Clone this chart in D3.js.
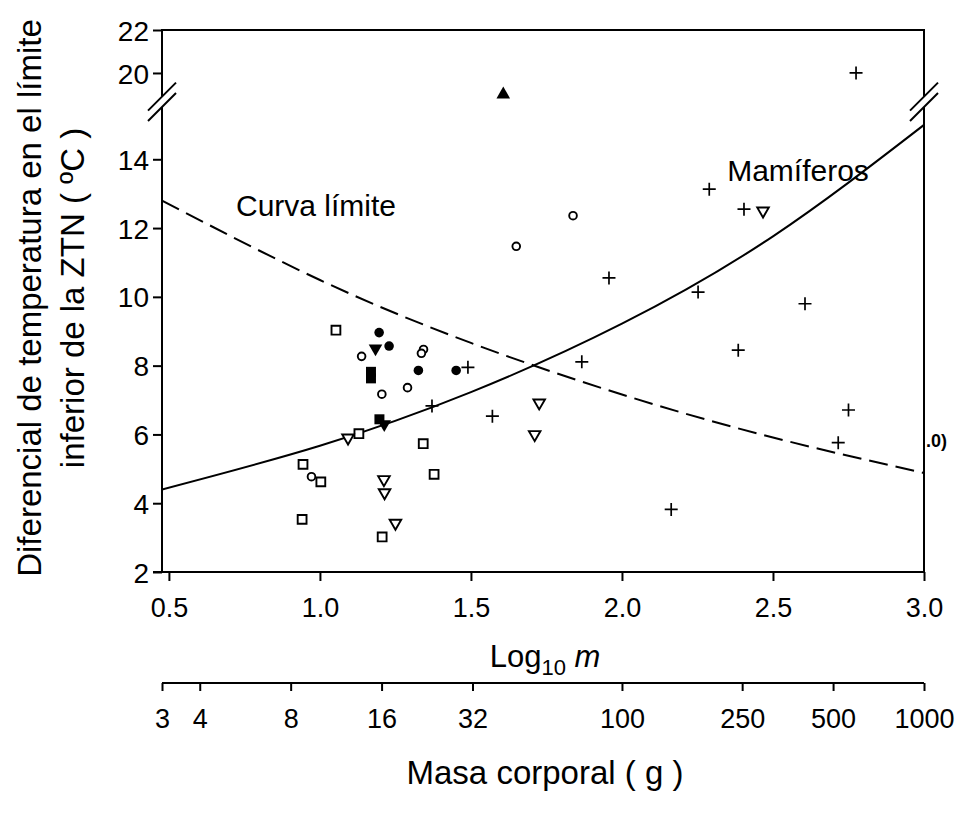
<!DOCTYPE html>
<html><head><meta charset="utf-8">
<script src="https://cdn.jsdelivr.net/npm/d3@7"></script>
<style>body{margin:0;background:#fff}svg{display:block}text{font-family:"Liberation Sans",Arial,sans-serif;fill:#000}</style>
</head><body>
<svg id="c" width="961" height="825"></svg>
<script>
// ---- data (log10 body mass, temperature differential at lower limit of TNZ) ----
const openSquares   = [[1.053,9.03],[1.129,6.02],[1.342,5.73],[0.944,5.13],[1.003,4.62],[1.378,4.84],[0.941,3.53],[1.206,3.02]];
const openCircles   = [[1.838,12.36],[1.65,11.47],[1.138,8.27],[1.343,8.47],[1.336,8.36],[1.29,7.36],[1.205,7.17],[0.972,4.77]];
const filledCircles = [[1.196,8.96],[1.229,8.57],[1.326,7.86],[1.451,7.86]];
const filledSquares = [[1.169,7.82],[1.169,7.63],[1.197,6.44]];
const filledTriDown = [[1.184,8.50],[1.213,6.30]];
const openTriDown   = [[1.093,5.90],[1.212,4.69],[1.214,4.31],[1.25,3.42],[1.726,6.92],[1.711,6.0],[2.467,12.5]];
const filledTriUp   = [[1.607,19.0]];
const mammals       = [[2.775,20.0],[1.49,7.95],[1.371,6.83],[1.571,6.53],[1.867,8.11],[2.385,8.45],[2.163,3.82],[1.957,10.55],[2.289,13.13],[2.404,12.55],[2.252,10.14],[2.606,9.8],[2.75,6.71],[2.716,5.76]];

// curves
const curveX        = [0.4771, 1.0, 1.5, 2.0, 2.5, 3.0];
const mammalCurveY  = [4.4, 5.67, 7.23, 9.22, 11.76, 15.0];
const limitCurveY   = [12.8, 10.49, 8.66, 7.16, 5.91, 4.88];

const xTicks        = [0.5, 1.0, 1.5, 2.0, 2.5, 3.0];
const yTicksLow     = [2, 4, 6, 8, 10, 12, 14];
const yTicksHigh    = [20, 22];
const massTicks     = [3, 4, 8, 16, 32, 100, 250, 500, 1000];

// ---- layout ----
const L = 162, R = 924, T = 30, B = 572;
const breakLo = 107, breakHi = 96.6;
const FONT = "Liberation Sans, Arial, sans-serif";
const svg = d3.select("#c");

const x = d3.scaleLinear().domain([Math.log10(3), 3]).range([L, R]);
const yLow = d3.scaleLinear().domain([2, 15.52]).range([B, breakLo]);
const yHigh = d3.scaleLinear().domain([18.9, 22]).range([breakHi, T]);
const y = v => v >= 18.9 ? yHigh(v) : yLow(v);

// frame
const g = svg.append("g");
g.append("line").attr("x1", L).attr("x2", R).attr("y1", T).attr("y2", T).attr("stroke", "#000").attr("stroke-width", 2);
[L, R].forEach(xx => {
  g.append("line").attr("x1", xx).attr("x2", xx).attr("y1", T - 1).attr("y2", breakHi).attr("stroke", "#000").attr("stroke-width", 2);
  g.append("line").attr("x1", xx).attr("x2", xx).attr("y1", breakLo).attr("y2", B + 1).attr("stroke", "#000").attr("stroke-width", 2);
});

// clip for curves
svg.append("clipPath").attr("id", "clip").append("rect").attr("x", L).attr("y", breakLo - 2).attr("width", R - L).attr("height", B - breakLo + 2);

const line = d3.line().curve(d3.curveNatural);
svg.append("path").attr("clip-path", "url(#clip)")
  .attr("d", line(curveX.map((v, i) => [x(v), yLow(mammalCurveY[i])])))
  .attr("fill", "none").attr("stroke", "#000").attr("stroke-width", 2);
svg.append("path").attr("clip-path", "url(#clip)")
  .attr("d", line(curveX.map((v, i) => [x(v), yLow(limitCurveY[i])])))
  .attr("fill", "none").attr("stroke", "#000").attr("stroke-width", 2).attr("stroke-dasharray", "19,8");

// break marks
[L, R].forEach(xx => {
  [breakHi, breakLo].forEach(yy => {
    svg.append("line").attr("x1", xx - 14).attr("y1", yy + 14).attr("x2", xx + 14).attr("y2", yy - 14)
      .attr("stroke", "#000").attr("stroke-width", 2);
  });
});

function styleTicks(sel, size) {
  sel.selectAll(".tick line").attr("stroke-width", 2);
  sel.selectAll(".tick text").attr("font-size", size).attr("font-family", FONT).attr("fill", "#000");
}

// bottom axis (log10 m)
const xAxis = d3.axisBottom(x).tickValues(xTicks).tickFormat(d3.format(".1f")).tickSize(9).tickSizeOuter(0);
const gx = svg.append("g").attr("transform", `translate(0,${B})`).call(xAxis);
gx.select(".domain").attr("d", `M${L - 9},0H${R}`).attr("stroke-width", 2);
styleTicks(gx, 27);
gx.selectAll(".tick text").attr("y", 0).attr("dy", 45);

// left axes
[[yLow, yTicksLow], [yHigh, yTicksHigh]].forEach(([sc, tv]) => {
  const ax = d3.axisLeft(sc).tickValues(tv).tickFormat(d3.format("d")).tickSize(9).tickSizeOuter(0);
  const ga = svg.append("g").attr("transform", `translate(${L},0)`).call(ax);
  ga.select(".domain").remove();
  styleTicks(ga, 28);
  ga.selectAll(".tick text").attr("x", -13).attr("dy", "0.36em");
});

// second axis: body mass (g)
const massY = 683;
const massAxis = d3.axisBottom(x).tickValues(massTicks.map(Math.log10)).tickFormat((d, i) => massTicks[i]).tickSize(8).tickSizeOuter(0);
const gm = svg.append("g").attr("transform", `translate(0,${massY})`).call(massAxis);
gm.select(".domain").attr("d", `M${L},0H${R}`).attr("stroke-width", 2);
styleTicks(gm, 27);
gm.selectAll(".tick text").attr("y", 0).attr("dy", 45);

// axis titles
const xt = svg.append("text").attr("x", 545).attr("y", 667).attr("text-anchor", "middle").attr("font-size", 31);
xt.append("tspan").text("Log");
xt.append("tspan").attr("font-size", 22).attr("dy", 8).text("10");
xt.append("tspan").attr("dy", -8).text(" ");
xt.append("tspan").attr("font-style", "italic").text("m");

svg.append("text").attr("x", 545).attr("y", 784).attr("text-anchor", "middle").attr("font-size", 33).text("Masa corporal ( g )");

svg.append("text").attr("transform", "translate(41,298) rotate(-90)").attr("text-anchor", "middle").attr("font-size", 33)
  .text("Diferencial de temperatura en el límite");
svg.append("text").attr("transform", "translate(84,298) rotate(-90)").attr("text-anchor", "middle").attr("font-size", 33)
  .text("inferior de la ZTN ( ºC )");

// annotations
svg.append("text").attr("x", 316).attr("y", 216).attr("text-anchor", "middle").attr("font-size", 30).text("Curva límite");
svg.append("text").attr("x", 798).attr("y", 181).attr("text-anchor", "middle").attr("font-size", 30).text("Mamíferos");
svg.append("text").attr("x", 926).attr("y", 447).attr("font-size", 18).attr("font-weight", "bold").text(".0)");

// points
const sym = (type, size) => d3.symbol().type(type).size(size)();
function draw(data, path, fill, stroke, sw, rot) {
  svg.append("g").selectAll("path").data(data).join("path")
    .attr("d", path)
    .attr("transform", d => `translate(${x(d[0])},${y(d[1])})` + (rot ? ` rotate(${rot})` : ""))
    .attr("fill", fill).attr("stroke", stroke).attr("stroke-width", sw);
}
draw(openSquares, sym(d3.symbolSquare, 78), "#fff", "#000", 1.9);
draw(openCircles, sym(d3.symbolCircle, 46), "#fff", "#000", 1.9);
draw(filledCircles, sym(d3.symbolCircle, 72), "#000", "none", 0);
draw(filledSquares, sym(d3.symbolSquare, 100), "#000", "none", 0);
draw(filledTriDown, sym(d3.symbolTriangle, 80), "#000", "none", 0, 180);
draw(openTriDown, sym(d3.symbolTriangle, 58), "#fff", "#000", 1.9, 180);
draw(filledTriUp, sym(d3.symbolTriangle, 80), "#000", "none", 0);
draw(mammals, "M-6.5,0H6.5M0,-6.5V6.5", "none", "#000", 1.7);
</script>
</body></html>
